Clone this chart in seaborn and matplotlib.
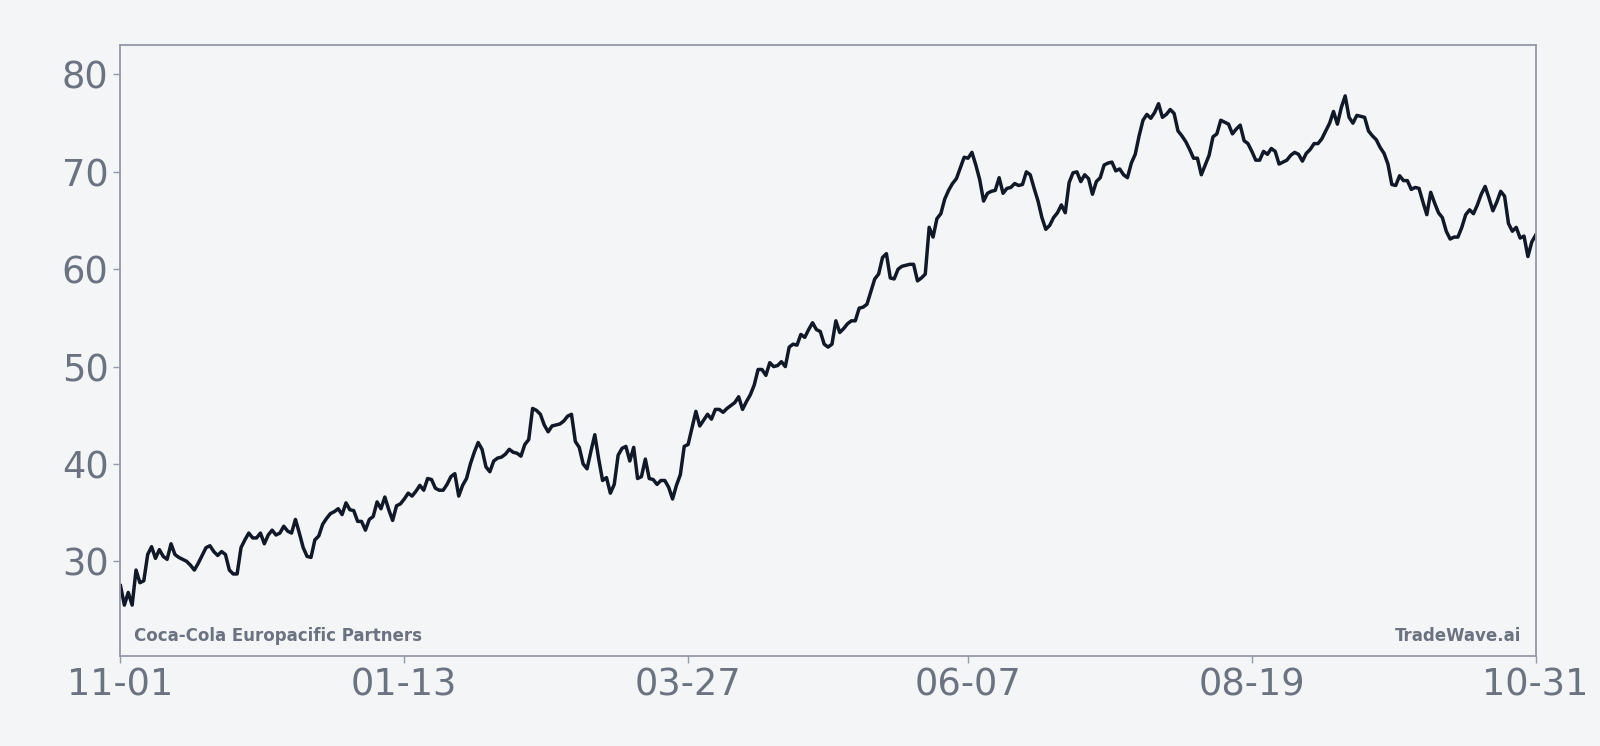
import matplotlib
matplotlib.use("Agg")
import matplotlib.pyplot as plt
import matplotlib.dates as mdates
import pandas as pd
import seaborn as sns

# daily closing price, 2022-11-01 .. 2023-10-31
start_date = "2022-11-01"
end_date = "2023-10-31"
prices = [
    27.5, 25.5, 26.8, 25.5, 29.1, 27.8, 28.0, 30.7, 31.5, 30.3,
    31.2, 30.5, 30.2, 31.8, 30.7, 30.4, 30.2, 30.0, 29.6, 29.1,
    29.8, 30.6, 31.4, 31.6, 31.0, 30.6, 31.0, 30.7, 29.1, 28.7,
    28.7, 31.4, 32.2, 32.9, 32.4, 32.4, 32.9, 31.8, 32.7, 33.2,
    32.7, 32.9, 33.6, 33.1, 32.9, 34.3, 32.9, 31.4, 30.5, 30.4,
    32.2, 32.6, 33.8, 34.4, 34.9, 35.1, 35.4, 34.8, 36.0, 35.3,
    35.2, 34.1, 34.1, 33.2, 34.3, 34.6, 36.1, 35.4, 36.6, 35.3,
    34.2, 35.7, 35.9,
    36.4, 37.0, 36.7, 37.2, 37.8, 37.3, 38.5, 38.4, 37.5, 37.3,
    37.3, 37.9, 38.7, 39.0, 36.7, 37.8, 38.5, 40.0, 41.2, 42.2,
    41.5, 39.7, 39.2, 40.3, 40.6, 40.7, 41.0, 41.5, 41.2, 41.1,
    40.8, 42.0, 42.5, 45.7, 45.5, 45.1, 44.0, 43.3, 43.9, 44.0,
    44.1, 44.4, 44.9, 45.1, 42.3, 41.7, 40.0, 39.5, 41.3, 43.0,
    40.5, 38.3, 38.6, 37.0, 37.9, 40.9, 41.6, 41.8, 40.3, 41.7,
    38.5, 38.7, 40.5, 38.5, 38.4, 37.9, 38.3, 38.3, 37.6, 36.4,
    37.8, 38.9, 41.8,
    42.0, 43.7, 45.4, 43.9, 44.5, 45.1, 44.6, 45.6, 45.6, 45.3,
    45.7, 46.0, 46.3, 46.9, 45.6, 46.4, 47.1, 48.1, 49.7, 49.7,
    49.1, 50.4, 50.0, 50.1, 50.5, 50.0, 52.0, 52.3, 52.2, 53.3,
    53.0, 53.8, 54.5, 53.8, 53.6, 52.3, 52.0, 52.3, 54.7, 53.5,
    53.9, 54.4, 54.7, 54.7, 56.0, 56.1, 56.4, 57.7, 59.0, 59.5,
    61.2, 61.6, 59.1, 59.0, 60.0, 60.3, 60.4, 60.5, 60.5, 58.8,
    59.1, 59.5, 64.3, 63.3, 65.2,
    65.7, 67.2, 68.1, 68.8, 69.3, 70.4, 71.5, 71.4, 72.0, 70.7,
    69.2, 67.0, 67.8, 68.0, 68.1, 69.4, 67.8, 68.3, 68.4, 68.8,
    68.6, 68.7, 70.0, 69.7, 68.3, 67.0, 65.3, 64.1, 64.5, 65.3,
    65.8, 66.6, 65.8, 68.9, 69.9, 70.0, 69.0, 69.7, 69.3, 67.7,
    69.0, 69.4, 70.7, 70.9, 71.0, 70.1, 70.3, 69.7, 69.4, 70.9,
    71.8, 73.7, 75.3, 75.9, 75.5, 76.1, 77.0, 75.6, 75.9, 76.4,
    76.0, 74.2, 73.7, 73.1, 72.3, 71.4, 71.4, 69.7, 70.7, 71.7,
    73.6, 73.9,
    75.3, 75.1, 74.9, 73.9, 74.4, 74.8, 73.2, 72.9, 72.1, 71.2,
    71.2, 72.1, 71.8, 72.4, 72.1, 70.8, 71.0, 71.2, 71.7, 72.0,
    71.8, 71.1, 71.9, 72.3, 72.9, 72.9, 73.4, 74.2, 75.0, 76.2,
    74.9, 76.6, 77.8, 75.6, 75.0, 75.8, 75.7, 75.6, 74.2, 73.7,
    73.3, 72.5, 71.9, 70.8, 68.7, 68.6, 69.6, 69.1, 69.1, 68.2,
    68.4, 68.3, 66.9, 65.6, 67.9, 66.8, 65.8, 65.3, 63.9, 63.1,
    63.3, 63.3, 64.3, 65.6, 66.1, 65.7, 66.6, 67.7, 68.5, 67.3,
    66.0, 66.9, 68.0, 67.5, 64.7,
    63.9, 64.3, 63.2, 63.4, 61.3, 62.8, 63.5,
]
company = "Coca-Cola Europacific Partners"
source = "TradeWave.ai"

bg = "#f4f5f7"
grey = "#6b7280"
spine_grey = "#9499a6"

df = pd.DataFrame({
    "date": pd.date_range(start_date, end_date, freq="D"),
    "price": prices,
})

fig = plt.figure(figsize=(16, 7.46), dpi=100, facecolor=bg)
ax = fig.add_axes([0.0753, 0.1206, 0.8845, 0.8191])
ax.set_facecolor(bg)

sns.lineplot(data=df, x="date", y="price", color="#111827", linewidth=2.5, ax=ax)

# 10% padding above and below the data
lo, hi = min(prices), max(prices)
pad = (hi - lo) * 0.1
ax.set_ylim(lo - pad, hi + pad)
ax.set_xlim(df["date"].iloc[0], df["date"].iloc[-1])
ax.set_yticks([30, 40, 50, 60, 70, 80])

xt = pd.date_range(start_date, end_date, periods=6).round("D")
ax.set_xticks(xt)
ax.xaxis.set_major_formatter(mdates.DateFormatter("%m-%d"))

ax.set_xlabel("")
ax.set_ylabel("")
ax.grid(False)
for s in ax.spines.values():
    s.set_color(spine_grey)
    s.set_linewidth(1.3)
ax.tick_params(axis="both", colors=spine_grey, length=5, width=1, labelsize=26.5, labelcolor=grey)
ax.tick_params(axis="y", pad=3.5)
ax.tick_params(axis="x", pad=2.5)

ax.text(0.0096, 0.025, company, transform=ax.transAxes, ha="left", va="baseline",
        fontsize=12, fontweight="bold", color=grey)
ax.text(0.9896, 0.025, source, transform=ax.transAxes, ha="right", va="baseline",
        fontsize=12, fontweight="bold", color=grey)

fig.savefig("out.png", dpi=100, facecolor=bg)
